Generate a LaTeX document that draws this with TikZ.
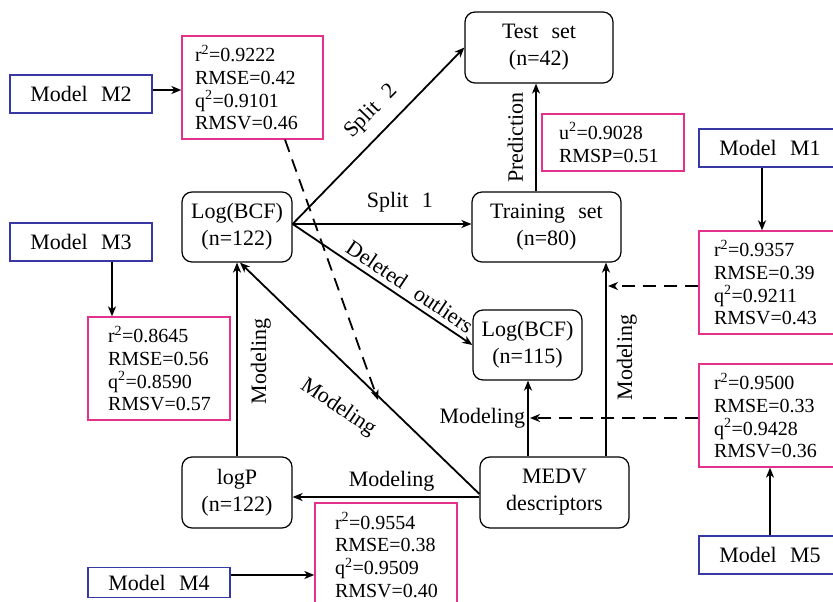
\documentclass[tikz,border=0pt]{standalone}
\usepackage{fontspec}
\setmainfont{Liberation Serif}
\usetikzlibrary{arrows.meta}
\newcommand\wsp{\hspace{0.6em}}
\definecolor{mblue}{RGB}{55,55,165}
\definecolor{mpink}{RGB}{228,50,140}
\begin{document}
\begin{tikzpicture}[x=1pt,y=-1pt,
  rbox/.style={draw, rounded corners=10pt, line width=1.2pt, align=center, inner sep=0pt, font=\fontsize{22}{27}\selectfont},
  mbox/.style={draw=mblue, line width=1.2pt, minimum width=142pt, minimum height=38pt, inner sep=0pt, font=\fontsize{22}{27}\selectfont},
  sbox/.style={draw=mpink, line width=1.3pt, align=left, inner ysep=0pt, font=\fontsize{20}{22.7}\selectfont},
  arr/.style={line width=1.8pt, -{Stealth[length=10pt,width=8pt,inset=3pt]}},
  darr/.style={arr, dash pattern=on 13pt off 8pt},
  lab/.style={font=\fontsize{22}{27}\selectfont, inner sep=2pt}
]
\useasboundingbox (0,0) rectangle (833,602);
\clip (0,0) rectangle (833,602);

% main rounded nodes
\node[rbox, minimum width=110pt, minimum height=70pt] (l122) at (237,227) {Log(BCF)\\(n=122)};
\node[rbox, minimum width=148pt, minimum height=71pt] (test) at (539,47.5) {Test\wsp set\\(n=42)};
\node[rbox, minimum width=149pt, minimum height=70pt] (train) at (546.5,227) {Training\wsp set\\(n=80)};
\node[rbox, minimum width=109pt, minimum height=70pt] (l115) at (527.5,345) {Log(BCF)\\(n=115)};
\node[rbox, minimum width=149pt, minimum height=71pt] (medv) at (554.5,492.5) {MEDV\\descriptors};
\node[rbox, minimum width=110pt, minimum height=71pt] (logp) at (237,492.5) {logP\\(n=122)};

% model labels
\node[mbox] (m2) at (81,94) {Model\wsp M2};
\node[mbox] (m3) at (81,242) {Model\wsp M3};
\node[mbox] (m1) at (770,148) {Model\wsp M1};
\node[mbox] (m5) at (770,555) {Model\wsp M5};
\node[mbox, minimum height=30pt] (m4) at (159,582.5) {Model\wsp M4};

% statistics boxes
\node[sbox, minimum height=103pt, inner xsep=13pt, text width=115pt] (s2) at (252.5,87.5)
  {r\textsuperscript{2}=0.9222\\RMSE=0.42\\q\textsuperscript{2}=0.9101\\RMSV=0.46};
\node[sbox, minimum height=103pt, inner xsep=20pt, text width=102pt] (s3) at (159,368.5)
  {r\textsuperscript{2}=0.8645\\RMSE=0.56\\q\textsuperscript{2}=0.8590\\RMSV=0.57};
\node[sbox, minimum height=57pt, inner xsep=17pt, text width=108pt] (su) at (613,142.5)
  {u\textsuperscript{2}=0.9028\\RMSP=0.51};
\node[sbox, minimum height=103pt, inner xsep=15pt, text width=112pt] (s1) at (770,282.5)
  {r\textsuperscript{2}=0.9357\\RMSE=0.39\\q\textsuperscript{2}=0.9211\\RMSV=0.43};
\node[sbox, minimum height=103pt, inner xsep=15pt, text width=112pt] (s5) at (770,415.5)
  {r\textsuperscript{2}=0.9500\\RMSE=0.33\\q\textsuperscript{2}=0.9428\\RMSV=0.36};
\node[sbox, minimum height=104pt, inner xsep=20pt, text width=102pt] (s4) at (386,555)
  {r\textsuperscript{2}=0.9554\\RMSE=0.38\\q\textsuperscript{2}=0.9509\\RMSV=0.40};

% model -> stats
\draw[arr] (m2.east |- 0,90) -- (s2.west |- 0,90);
\draw[arr] (m3.south -| 112,0) -- (s3.north -| 112,0);
\draw[arr] (m1.south -| 762,0) -- (s1.north -| 762,0);
\draw[arr] (m5.north) -- (s5.south);
\draw[arr] (m4.east |- 0,575) -- (s4.west |- 0,575);

% main connectors
\draw[arr] (l122.east |- 0,224) -- node[lab, pos=0.55, sloped, above=9pt] {Split\wsp 2} (test.west);
\draw[arr] (l122.east |- 0,224) -- node[lab, pos=0.6, above=9pt] {Split\wsp 1} (train.west |- 0,224);
\draw[arr] (l122.east |- 0,224) -- node[lab, pos=0.61, sloped, above=3pt] {Deleted\wsp outliers} (l115.west);
\draw[arr] (train.north -| 536,0) -- node[lab, midway, sloped, above=10pt] {Prediction} (test.south -| 536,0);
\draw[arr] (medv.north -| 528,0) -- node[lab, midway, left] {Modeling} (l115.south -| 528,0);
\draw[arr] (medv.north -| 606,0) -- node[lab, pos=0.51, sloped, below=8pt] {Modeling} (train.south -| 606,0);
\draw[arr] (medv.west |- 0,497) -- node[lab, pos=0.47, above=3pt] {Modeling} (logp.east |- 0,497);
\draw[arr] (medv.west |- 0,494) -- node[lab, pos=0.49, xshift=-24pt, yshift=-27pt, rotate=-34] {Modeling} (l122.south -| 240,0);
\draw[arr] (logp.north) -- node[lab, pos=0.49, sloped, below=11pt] {Modeling} (l122.south);

% dashed connectors
\coordinate (d2) at (378,400);
\coordinate (d1) at (608,286);
\coordinate (d5) at (530,418);
\draw[darr] (s2.south -| 285,0) -- (d2);
\draw[darr] (s1.west |- 0,286) -- (d1);
\draw[darr] (s5.west |- 0,418) -- (d5);
\end{tikzpicture}
\end{document}
